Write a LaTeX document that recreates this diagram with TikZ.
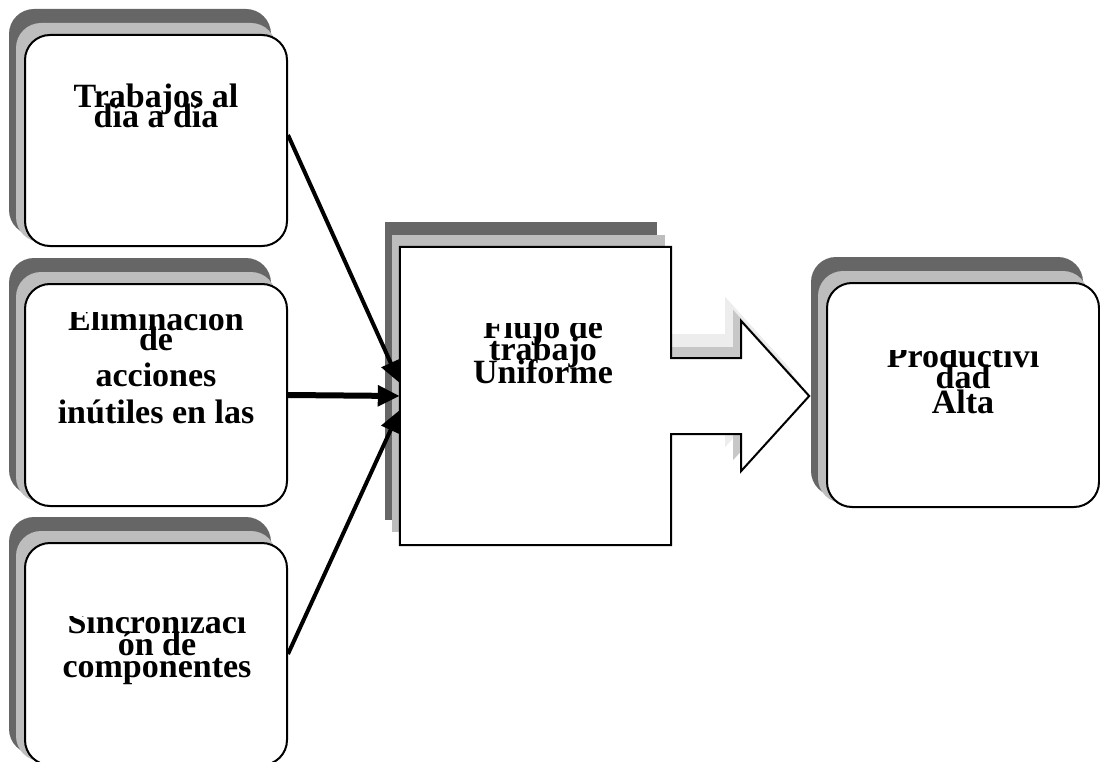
\documentclass[tikz,border=0pt]{standalone}
\usepackage{fontspec}
\setmainfont{Liberation Serif}
\usetikzlibrary{arrows.meta,calc,backgrounds}
\definecolor{shdark}{gray}{0.40}
\definecolor{shlight}{gray}{0.74}
\definecolor{shfaint}{gray}{0.93}
\definecolor{shmid}{gray}{0.78}

% stacked shadow behind a rounded card
\newcommand{\cardshadow}[1]{%
  \fill[shdark, rounded corners=25pt] ($(#1.north west)+(-15,-25)$) rectangle ($(#1.south east)+(-17,-12)$);
  \fill[shlight, rounded corners=25pt] ($(#1.north west)+(-8,-11)$) rectangle ($(#1.south east)+(-12,-5)$);
}
% outline of the block arrow leaving the central box, shifted by (#1,#2)
\newcommand{\headshape}[2]{($(m.east)+(#1-20,#2-38)$) -- ($(m.east)+(#1+70,#2-38)$) -- ($(m.east)+(#1+70,#2-75)$) -- ($(m.east)+(#1+138,#2)$) -- ($(m.east)+(#1+70,#2+75)$) -- ($(m.east)+(#1+70,#2+38)$) -- ($(m.east)+(#1-20,#2+38)$) -- cycle}

\begin{document}
\begin{tikzpicture}[x=1pt,y=-1pt,
  card/.style={draw=black, line width=2pt, fill=white, rounded corners=25pt, inner sep=0pt},
  frame/.style={inner sep=0pt, minimum width=271pt, minimum height=298pt},
  label/.style={font=\fontsize{34}{34}\selectfont\bfseries, anchor=base, inner sep=0pt},
  link/.style={line width=4pt, -{Triangle[length=22pt,width=20pt]}},
]
\useasboundingbox (0,0) rectangle (1100,762);

% cards
\node[card, minimum width=262pt, minimum height=211pt] (b1) at (156,140.5) {};
\node[card, minimum width=262pt, minimum height=222pt] (b2) at (156,395) {};
\node[card, minimum width=262pt, minimum height=222pt] (b3) at (156,654) {};
\node[card, minimum width=272pt, minimum height=224pt] (r) at (963,395) {};
\node[frame] (m) at (535.5,396) {};

% central box merged with its block arrow
\draw[line width=2pt, fill=white]
  (m.north west) -- (m.north east) -- ($(m.east)+(0,-38)$) -- ($(m.east)+(70,-38)$)
  -- ($(m.east)+(70,-75)$) -- ($(m.east)+(138,0)$) -- ($(m.east)+(70,75)$)
  -- ($(m.east)+(70,38)$) -- ($(m.east)+(0,38)$) -- (m.south east) -- (m.south west) -- cycle;

\begin{scope}[on background layer]
  \fill[shfaint] \headshape{-16}{-24};
  \fill[shmid] \headshape{-8}{-11};
  \fill[shdark] ($(m.north west)+(-15,-25)$) rectangle ($(m.south east)+(-14,-25)$);
  \fill[shlight] ($(m.north west)+(-8,-12)$) rectangle ($(m.south east)+(-6,-13)$);
  \cardshadow{b1}
  \cardshadow{b2}
  \cardshadow{b3}
  \cardshadow{r}
\end{scope}

% texts
\node[label] (t1a) at (156,108) {Trabajos al};
\node[label] (t1b) at (156,128) {día a día};
\begin{scope}
  \clip (0,312) rectangle (300,520);
  \node[label] (t2a) at (156,330) {Eliminación};
  \node[label] (t2b) at (156,350) {de};
  \node[label] (t2c) at (156,386) {acciones};
  \node[label] (t2d) at (156,423) {inútiles en las};
\end{scope}
\begin{scope}
  \clip (400,323) rectangle (671,545);
  \node[label] (tma) at (543,338) {Flujo de};
  \node[label] (tmb) at (543,360) {trabajo};
  \node[label] (tmc) at (543,383) {Uniforme};
\end{scope}
\begin{scope}
  \clip (827,350) rectangle (1100,507);
  \node[label] (tra) at (963,367) {Productivi};
  \node[label] (trb) at (963,388) {dad};
  \node[label] (trc) at (963,413) {Alta};
\end{scope}
\begin{scope}
  \clip (0,616) rectangle (300,762);
  \node[label] (t3a) at (157,633) {Sincronizaci};
  \node[label] (t3b) at (157,655) {ón de};
  \node[label] (t3c) at (157,677) {componentes};
\end{scope}

% connectors into the central box
\draw[link] ([yshift=5.5pt]b1.east) -- ([yshift=13pt]m.west);
\draw[link, line width=6pt] (b2.east) -- (m.west);
\draw[link] (b3.east) -- ([yshift=-14pt]m.west);
\end{tikzpicture}
\end{document}
